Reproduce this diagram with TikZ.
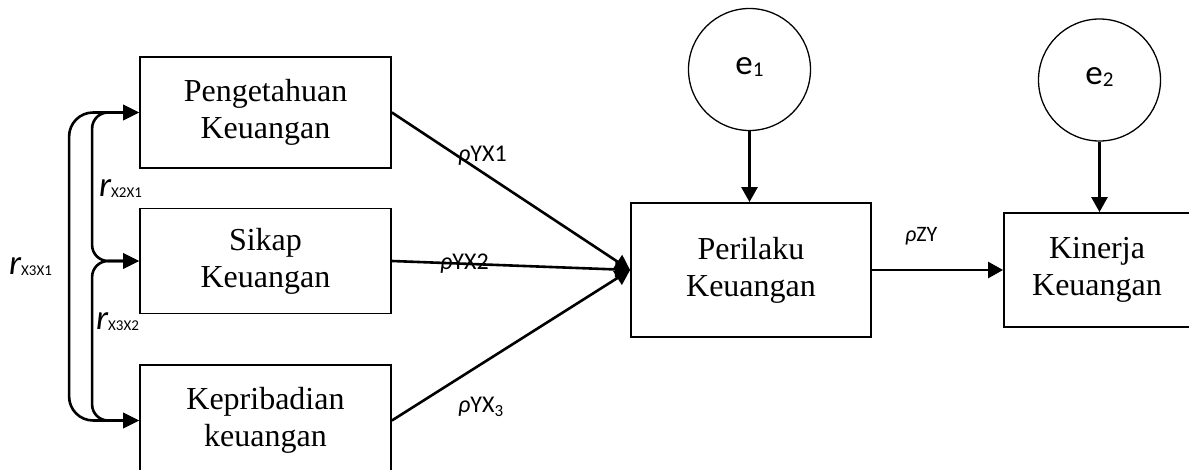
\documentclass[tikz,border=0pt]{standalone}
\usepackage{fontspec}
\setmainfont{Liberation Serif}
\newfontfamily\labfont{Carlito}
\usetikzlibrary{arrows.meta}

\begin{document}
\begin{tikzpicture}[x=1pt,y=-1pt,
  varbox/.style={draw, line width=1.8pt, inner sep=0pt, align=center,
    font=\fontsize{32}{37}\selectfont},
  errnode/.style={draw, circle, line width=1.3pt, inner sep=0pt,
    minimum size=122pt, font=\labfont\fontsize{35}{35}\selectfont},
  path/.style={line width=2.6pt, -{Triangle[length=15pt,width=16pt]}},
  corr/.style={line width=2.6pt, {Triangle[length=16pt,width=15pt]}-{Triangle[length=16pt,width=15pt]}},
  coef/.style={anchor=base west, inner sep=0pt, font=\labfont\fontsize{24}{24}\selectfont},
  rlab/.style={anchor=base west, inner sep=0pt, font=\labfont\fontsize{35}{35}\selectfont}
]
\useasboundingbox (0,0) rectangle (1189,470);

% exogenous variables
\node[varbox, minimum width=251pt, minimum height=111pt] (b1) at (265.5,112.5) {Pengetahuan\\Keuangan};
\node[varbox, minimum width=251pt, minimum height=105pt] (b2) at (265.5,261) {Sikap\\Keuangan};
\node[varbox, minimum width=251pt, minimum height=111pt] (b3) at (265.5,420.5) {Kepribadian\\keuangan};

% intervening and dependent variables
\node[varbox, minimum width=240pt, minimum height=134pt] (p) at (751,270) {Perilaku\\Keuangan};
\node[varbox, minimum width=186pt, minimum height=114pt] (k) at (1097,270) {Kinerja\\Keuangan};

% error terms
\node[errnode] (e1) at (749.5,69.5) {\raisebox{7pt}{e\raisebox{-2pt}{\fontsize{21}{21}\selectfont 1}}};
\node[errnode] (e2) at (1099.5,80) {\raisebox{7pt}{e\raisebox{-2pt}{\fontsize{21}{21}\selectfont 2}}};

% correlations between exogenous variables
\draw[corr, rounded corners=24pt] (b1.west) -| ([xshift=-70pt]b2.west) |- (b3.west);
\draw[corr, rounded corners=16pt] (b1.west) -| ([xshift=-47pt]b2.west) -- (b2.west);
\draw[corr, rounded corners=16pt] (b2.west) -| ([xshift=-47pt]b3.west) -- (b3.west);

\node[rlab] (r21) at (99,197) {\itshape r\upshape\raisebox{-1pt}{\fontsize{15}{15}\selectfont X2X1}};
\node[rlab] (r31) at (9,275) {\itshape r\upshape\raisebox{-1pt}{\fontsize{15}{15}\selectfont X3X1}};
\node[rlab] (r32) at (96,330) {\itshape r\upshape\raisebox{-1pt}{\fontsize{15}{15}\selectfont X3X2}};

% path coefficients
\draw[path] (b1.east) -- (p.west);
\draw[path] (b2.east) -- (p.west);
\draw[path] (b3.east) -- (p.west);
\draw[path] (p.east) -- (k.west);
\draw[path] (e1.south) -- (e1.south |- p.north);
\draw[path] (e2.south) -- (e2.south |- k.north);

\node[coef] (c1) at (458,162) {{\itshape ρ}YX1};
\node[coef] (c2) at (440,270) {{\itshape ρ}YX2};
\node[coef] (c3) at (458,412) {{\itshape ρ}YX\raisebox{-4pt}{\fontsize{17}{17}\selectfont 3}};
\node[coef] (c4) at (905,242) {\fontsize{22}{22}\selectfont{\itshape ρ}ZY};
\end{tikzpicture}
\end{document}
